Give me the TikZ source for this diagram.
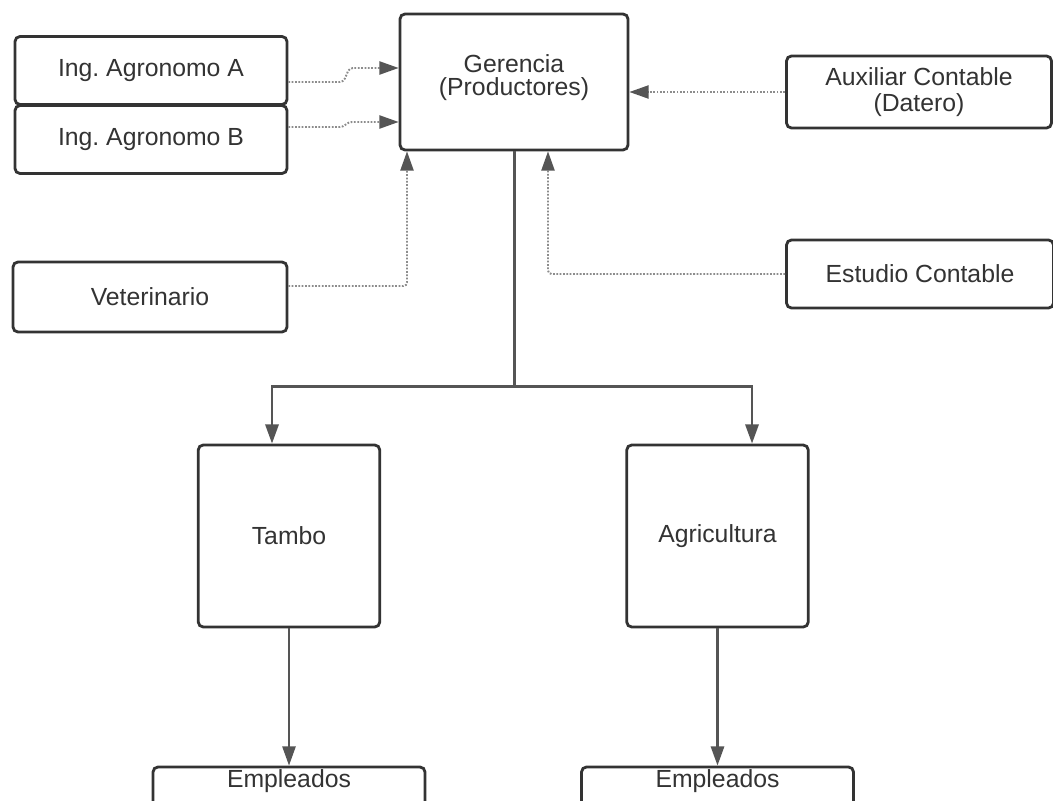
\documentclass[tikz,border=0pt]{standalone}
\usepackage{fontspec}
\setmainfont{Liberation Sans}
\usetikzlibrary{arrows.meta,calc}
\definecolor{boxDraw}{RGB}{51,51,51}
\definecolor{lineGray}{RGB}{85,85,85}
\definecolor{dotGray}{RGB}{140,140,140}
\definecolor{textDark}{RGB}{51,51,51}

\begin{document}
\frenchspacing
\begin{tikzpicture}[
  x=0.02cm, y=-0.02cm,
  font=\fontsize{14.1}{15}\selectfont,
  unit/.style={draw=boxDraw, fill=white, line width=1.6pt, rounded corners=2.8pt,
    text=textDark, align=center, inner sep=0pt},
  wide/.style={unit, minimum width=5.44cm, minimum height=1.36cm},
  tall/.style={unit, minimum width=3.63cm, minimum height=3.64cm},
  toptext/.style={text height=10pt, text depth=#1},
  tip/.style={-{Triangle[length=11pt, width=7.5pt, color=lineGray]}},
  solidline/.style={tip, draw=lineGray, line width=1.3pt},
  dotline/.style={tip, draw=dotGray, line width=1.1pt, dash pattern=on 1pt off 0.9pt,
    rounded corners=2pt}
]
\useasboundingbox (0,0) rectangle (1053,800);
\clip (0,0) rectangle (1053,800);
\fill[white] (0,0) rectangle (1053,800);

% Management and advisors.
\node[unit, minimum width=4.56cm, minimum height=2.72cm] (gerencia) at (514,82)
  {Gerencia\\[-2pt](Productores)\\[-7pt]};
\node[wide] (ingA) at (151,70.5) {Ing. Agronomo A};
\node[wide] (ingB) at (151,139.5) {Ing. Agronomo B};
\node[wide, minimum width=5.48cm, minimum height=1.40cm] (vet) at (150,297) {Veterinario};
\node[wide, minimum width=5.3cm, minimum height=1.44cm] (auxiliar) at (919,92)
  {Auxiliar Contable\\(Datero)};
\node[wide, minimum width=5.34cm] (estudio) at (920,274) {Estudio Contable};

% Areas and staff.
\node[tall] (tambo) at (289,536) {Tambo};
\node[tall] (agricultura) at (717.5,536) {Agricultura};
\node[wide, minimum height=1.4cm, toptext=27pt] (empA) at (289,802) {Empleados};
\node[wide, minimum height=1.4cm, toptext=27pt] (empB) at (717.5,802) {Empleados};

% Advisory links.
\draw[dotline] ($(ingA.east)+(0,11.5)$) -- ++(55,0) -- ++(6,-14)
  -- ($(gerencia.west)+(0,-14)$);
\draw[dotline] ($(ingB.east)+(0,-12.5)$) -- ++(55,0) -- ++(5,-5)
  -- ($(gerencia.west)+(0,40)$);
\draw[dotline] ($(vet.east)+(0,-11)$) -| ($(gerencia.south)+(-107,0)$);
\draw[dotline] (estudio.west) -| ($(gerencia.south)+(34,0)$);
\draw[dotline] (auxiliar.west) -- (auxiliar.west -| gerencia.east);

% Reporting lines.
\draw[draw=lineGray, line width=1.7pt] (gerencia.south) -- ++(0,235) coordinate (split);
\draw[solidline, line width=1.6pt] (split) -| ($(tambo.north)+(-17,0)$);
\draw[solidline, line width=1.6pt] (split) -| ($(agricultura.north)+(34.5,0)$);
\draw[solidline] (tambo.south) -- (empA.north);
\draw[solidline, line width=1.5pt] (agricultura.south) -- (empB.north);

\end{tikzpicture}
\end{document}
